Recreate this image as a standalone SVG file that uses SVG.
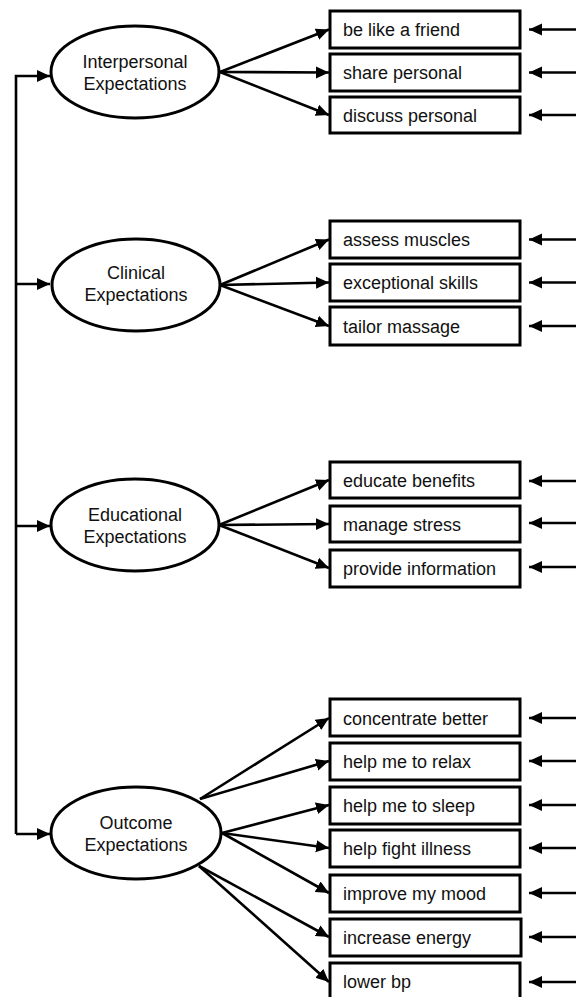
<svg xmlns="http://www.w3.org/2000/svg" width="576" height="997" viewBox="0 0 576 997">
<style>
.box{fill:#fff;stroke:#000;stroke-width:3}
.ell{fill:#fff;stroke:#000;stroke-width:3}
.t{font-family:"Liberation Sans",Arial,sans-serif;font-size:18px;fill:#111}
.c{text-anchor:middle}
.ln{fill:none;stroke:#000;stroke-width:2.6}
</style>
<defs>
<marker id="ah" markerUnits="userSpaceOnUse" markerWidth="13" markerHeight="13" viewBox="0 0 13 13" refX="13" refY="6.5" orient="auto">
<path d="M0,0.5 L13,6.5 L0,12.5 Z" fill="#000"/>
</marker>
</defs>
<g id="connectors">
<path class="ln" d="M16,834 V76 H50" marker-end="url(#ah)"/>
<path class="ln" d="M16,284 H50" marker-end="url(#ah)"/>
<path class="ln" d="M16,526 H50" marker-end="url(#ah)"/>
<path class="ln" d="M16,834 H50" marker-end="url(#ah)"/>
<line class="ln" x1="220" y1="72" x2="329" y2="29.5" marker-end="url(#ah)"/>
<line class="ln" x1="220" y1="72" x2="329" y2="72.5" marker-end="url(#ah)"/>
<line class="ln" x1="220" y1="72" x2="329" y2="115" marker-end="url(#ah)"/>
<line class="ln" x1="220" y1="285" x2="329" y2="239.5" marker-end="url(#ah)"/>
<line class="ln" x1="220" y1="285" x2="329" y2="282.5" marker-end="url(#ah)"/>
<line class="ln" x1="220" y1="285" x2="329" y2="326" marker-end="url(#ah)"/>
<line class="ln" x1="219" y1="525" x2="329" y2="480" marker-end="url(#ah)"/>
<line class="ln" x1="219" y1="525" x2="329" y2="524" marker-end="url(#ah)"/>
<line class="ln" x1="219" y1="525" x2="329" y2="568" marker-end="url(#ah)"/>
<line class="ln" x1="200" y1="799" x2="329" y2="718" marker-end="url(#ah)"/>
<line class="ln" x1="200" y1="799" x2="329" y2="761" marker-end="url(#ah)"/>
<line class="ln" x1="222" y1="833" x2="329" y2="805" marker-end="url(#ah)"/>
<line class="ln" x1="222" y1="833" x2="329" y2="848" marker-end="url(#ah)"/>
<line class="ln" x1="222" y1="833" x2="329" y2="893" marker-end="url(#ah)"/>
<line class="ln" x1="199" y1="866" x2="329" y2="937" marker-end="url(#ah)"/>
<line class="ln" x1="199" y1="866" x2="329" y2="982" marker-end="url(#ah)"/>
<line class="ln" x1="576" y1="29.5" x2="529" y2="29.5" marker-end="url(#ah)"/>
<line class="ln" x1="576" y1="72.5" x2="529" y2="72.5" marker-end="url(#ah)"/>
<line class="ln" x1="576" y1="115" x2="529" y2="115" marker-end="url(#ah)"/>
<line class="ln" x1="576" y1="239.5" x2="529" y2="239.5" marker-end="url(#ah)"/>
<line class="ln" x1="576" y1="282.5" x2="529" y2="282.5" marker-end="url(#ah)"/>
<line class="ln" x1="576" y1="326" x2="529" y2="326" marker-end="url(#ah)"/>
<line class="ln" x1="576" y1="481" x2="529" y2="481" marker-end="url(#ah)"/>
<line class="ln" x1="576" y1="523" x2="529" y2="523" marker-end="url(#ah)"/>
<line class="ln" x1="576" y1="567" x2="529" y2="567" marker-end="url(#ah)"/>
<line class="ln" x1="576" y1="718" x2="529" y2="718" marker-end="url(#ah)"/>
<line class="ln" x1="576" y1="761" x2="529" y2="761" marker-end="url(#ah)"/>
<line class="ln" x1="576" y1="805" x2="529" y2="805" marker-end="url(#ah)"/>
<line class="ln" x1="576" y1="848" x2="529" y2="848" marker-end="url(#ah)"/>
<line class="ln" x1="576" y1="893" x2="529" y2="893" marker-end="url(#ah)"/>
<line class="ln" x1="576" y1="937" x2="529" y2="937" marker-end="url(#ah)"/>
<line class="ln" x1="576" y1="982" x2="529" y2="982" marker-end="url(#ah)"/>
</g>
<g id="interpersonal"><ellipse class="ell" cx="135" cy="72" rx="84" ry="46"/><text class="t c" x="135" y="68">Interpersonal</text><text class="t c" x="135" y="90">Expectations</text></g>
<g id="clinical"><ellipse class="ell" cx="136" cy="285" rx="84" ry="46"/><text class="t c" x="136" y="279">Clinical</text><text class="t c" x="136" y="301">Expectations</text></g>
<g id="educational"><ellipse class="ell" cx="135" cy="525" rx="84" ry="46"/><text class="t c" x="135" y="521">Educational</text><text class="t c" x="135" y="543">Expectations</text></g>
<g id="outcome"><ellipse class="ell" cx="136" cy="833" rx="85" ry="46"/><text class="t c" x="136" y="829">Outcome</text><text class="t c" x="136" y="851">Expectations</text></g>
<g id="b1"><rect class="box" x="330" y="11" width="190" height="37"/><text class="t" x="343" y="36">be like a friend</text></g>
<g id="b2"><rect class="box" x="330" y="54" width="190" height="37"/><text class="t" x="343" y="79">share personal</text></g>
<g id="b3"><rect class="box" x="330" y="97" width="190" height="36"/><text class="t" x="343" y="121.5">discuss personal</text></g>
<g id="b4"><rect class="box" x="330" y="221" width="190" height="37"/><text class="t" x="343" y="246">assess muscles</text></g>
<g id="b5"><rect class="box" x="330" y="264" width="190" height="37"/><text class="t" x="343" y="289">exceptional skills</text></g>
<g id="b6"><rect class="box" x="330" y="307" width="190" height="38"/><text class="t" x="343" y="332.5">tailor massage</text></g>
<g id="b7"><rect class="box" x="330" y="462" width="190" height="36"/><text class="t" x="343" y="486.5">educate benefits</text></g>
<g id="b8"><rect class="box" x="330" y="506" width="190" height="36"/><text class="t" x="343" y="530.5">manage stress</text></g>
<g id="b9"><rect class="box" x="330" y="550" width="190" height="37"/><text class="t" x="343" y="575">provide information</text></g>
<g id="b10"><rect class="box" x="330" y="699" width="190" height="37"/><text class="t" x="343" y="724.5">concentrate better</text></g>
<g id="b11"><rect class="box" x="330" y="743" width="190" height="37"/><text class="t" x="343" y="768">help me to relax</text></g>
<g id="b12"><rect class="box" x="330" y="787" width="190" height="37"/><text class="t" x="343" y="812">help me to sleep</text></g>
<g id="b13"><rect class="box" x="330" y="830" width="190" height="37"/><text class="t" x="343" y="855">help fight illness</text></g>
<g id="b14"><rect class="box" x="330" y="875" width="190" height="37"/><text class="t" x="343" y="900">improve my mood</text></g>
<g id="b15"><rect class="box" x="330" y="919" width="191" height="37"/><text class="t" x="343" y="944">increase energy</text></g>
<g id="b16"><rect class="box" x="330" y="963" width="190" height="37"/><text class="t" x="343" y="988">lower bp</text></g>
</svg>
